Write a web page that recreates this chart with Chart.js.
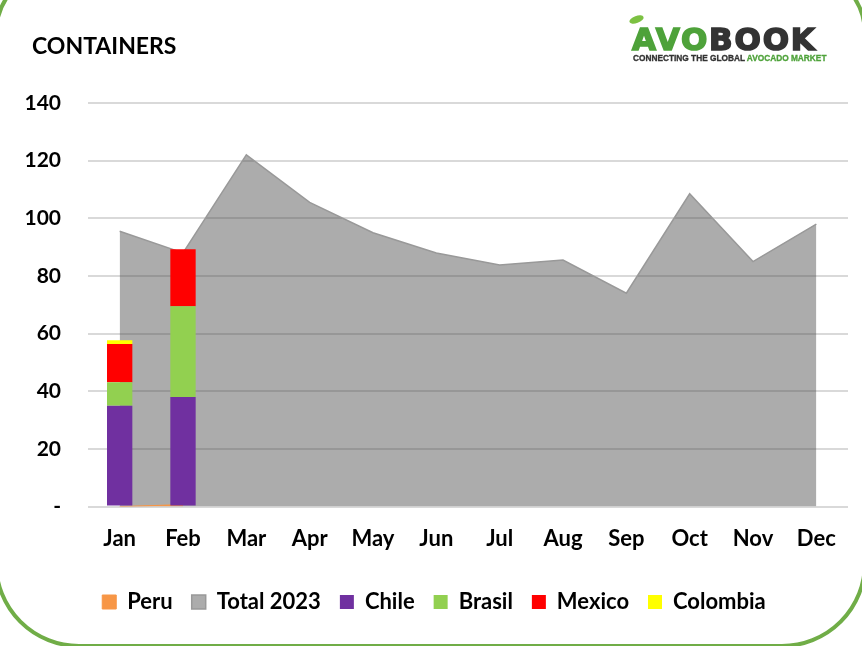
<!DOCTYPE html>
<html><head><meta charset="utf-8">
<script src="https://cdn.jsdelivr.net/npm/chart.js@4.4.0/dist/chart.umd.min.js"></script>
<style>
html,body{margin:0;padding:0;background:#fff;overflow:hidden}
#wrap{position:relative;width:862px;height:646px;overflow:hidden;background:#fff}
#frame{position:absolute;left:-6px;top:-34px;width:873px;height:682px;box-sizing:border-box;border:4px solid #70ad47;border-radius:68px 68px 85px 85px;z-index:2;pointer-events:none}
canvas{position:absolute;left:0;top:0}
#title{position:absolute;left:32px;top:32px;font:bold 23px Lato;color:#000;line-height:26px;z-index:3}
#logo{position:absolute;left:632px;top:24px;z-index:3}
#logo .big{font:bold 31px "DejaVu Sans";letter-spacing:1.8px;line-height:31px;color:#333;white-space:nowrap;-webkit-text-stroke:1.6px currentColor}
#logo .g{color:#4ea23a}
#logo .tag{font:bold 8.3px "Liberation Sans";color:#333;white-space:nowrap;margin-top:-2px;margin-left:1px;-webkit-text-stroke:0.3px currentColor}
#leaf{position:absolute;left:-3px;top:-8px;width:15px;height:7px;background:#7cc142;border-radius:50%;transform:rotate(-20deg)}
</style></head>
<body>
<div id="wrap">
<canvas id="c" width="862" height="646"></canvas>
<div id="frame"></div>
<div id="title">CONTAINERS</div>
<div id="logo"><div id="leaf"></div><div class="big"><span class="g">AVO</span>BOOK</div><div class="tag">CONNECTING THE GLOBAL <span class="g">AVOCADO MARKET</span></div></div>
</div>
<script>
const months = ['Jan','Feb','Mar','Apr','May','Jun','Jul','Aug','Sep','Oct','Nov','Dec'];
const peru = [0, 0.7, null, null, null, null, null, null, null, null, null, null];
const total2023 = [95.5, 88, 122, 105.5, 95, 88, 83.8, 85.5, 74, 108.5, 85, 98];
const chile = [35, 38, null, null, null, null, null, null, null, null, null, null];
const brasil = [8.1, 31.5, null, null, null, null, null, null, null, null, null, null];
const mexico = [13.3, 19.8, null, null, null, null, null, null, null, null, null, null];
const colombia = [1.3, 0, null, null, null, null, null, null, null, null, null, null];
const yTicks = [0, 20, 40, 60, 80, 100, 120, 140];

Chart.defaults.font.family = 'Lato';
Chart.defaults.font.weight = 'bold';
Chart.defaults.font.size = 21;
Chart.defaults.color = '#000';

const shiftLegend = {
  id:'shiftLegend',
  afterLayout(chart){ if(chart.legend){ chart.legend.left += 10; chart.legend.right += 10; } }
};

new Chart(document.getElementById('c'), {
  type: 'bar',
  data: {
    labels: months,
    datasets: [
      {type:'line', label:'Peru', data: peru, stack:'peru', order:1, fill:'origin',
       backgroundColor:'#f79646', borderColor:'#f79646', borderWidth:1, pointRadius:0, tension:0},
      {type:'line', label:'Total 2023', data: total2023, stack:'total', order:2, fill:'origin',
       backgroundColor:'rgba(75,75,75,0.46)', borderColor:'#999999', borderWidth:1.5, pointRadius:0, tension:0},
      {label:'Chile', data: chile, stack:'exp', order:0, backgroundColor:'#7030a0'},
      {label:'Brasil', data: brasil, stack:'exp', order:0, backgroundColor:'#92d050'},
      {label:'Mexico', data: mexico, stack:'exp', order:0, backgroundColor:'#ff0000'},
      {label:'Colombia', data: colombia, stack:'exp', order:0, backgroundColor:'#ffff00'}
    ]
  },
  plugins:[shiftLegend],
  options: {
    responsive:false, animation:false, devicePixelRatio:1,
    layout:{padding:{top:103, right:14, left:0, bottom:23}},
    datasets:{bar:{categoryPercentage:0.4, barPercentage:1}},
    plugins:{
      tooltip:{enabled:false},
      title:{display:false},
      legend:{position:'bottom',
        labels:{boxWidth:14, boxHeight:14, padding:19, font:{size:22, weight:'bold'},
          sort:(a,b)=>a.datasetIndex-b.datasetIndex}}
    },
    scales:{
      x:{stacked:true, grid:{display:false}, border:{display:false},
         afterFit:(s)=>{s.height = s.height + 9;},
         ticks:{padding:11, font:{size:22, weight:'bold'}}},
      y:{stacked:true, min:0, max:140,
         afterBuildTicks:(s)=>{s.ticks = yTicks.map(v=>({value:v}));},
         afterFit:(s)=>{s.width = 88;},
         grid:{color:'#d9d9d9', lineWidth:2, drawTicks:false},
         border:{display:false},
         ticks:{padding:27, font:{size:21, weight:'bold'}, callback:(v)=> v===0 ? '-' : v}}
    }
  }
});
</script>
</body></html>
